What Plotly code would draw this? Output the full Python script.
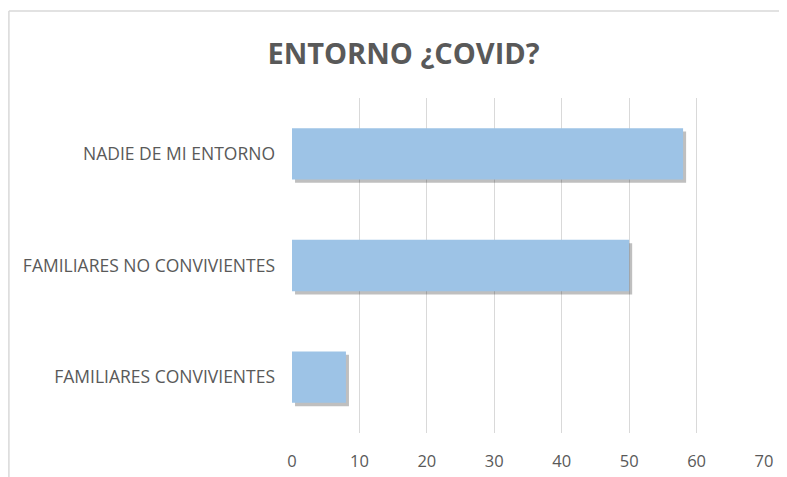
import plotly.graph_objects as go

categories = ["FAMILIARES CONVIVIENTES", "FAMILIARES NO CONVIVIENTES", "NADIE DE MI ENTORNO"]
values = [8, 50, 58]
x_ticks = [0, 10, 20, 30, 40, 50, 60, 70]
title_text = "ENTORNO ¿COVID?"

# the page body adds an 8px offset, so the figure is drawn 8px smaller
W, H = 779, 469
L, T = 284, 90
PW, PH = 472, 335

fig = go.Figure()
# soft shadow under the bars
fig.add_trace(go.Bar(
    y=categories, x=values, orientation="h", base=0.45,
    width=0.46, offset=-0.26,
    marker=dict(color="rgba(0,0,0,0.25)", line=dict(width=0)),
    hoverinfo="skip", showlegend=False,
))
fig.add_trace(go.Bar(
    y=categories, x=values, orientation="h",
    width=0.46,
    marker=dict(color="#9DC3E6", line=dict(width=0)),
    showlegend=False,
))

x_left = (0.9 - L) / PW
x_right = (W + 2 - L) / PW
y_top = (T + PH - (11 - 8)) / PH
y_bottom = -(H - T - PH + 2) / PH

fig.update_layout(
    width=W, height=H,
    margin=dict(l=L, r=W - L - PW, t=T, b=H - T - PH, autoexpand=False),
    paper_bgcolor="white", plot_bgcolor="white",
    barmode="overlay",
    title=dict(text=title_text, x=(403.5 - 8) / W, xanchor="center",
               y=1 - (54 - 8) / H, yanchor="middle",
               font=dict(family="Open Sans", size=29, color="#595959", weight="bold")),
    font=dict(family="Open Sans", color="#595959"),
    xaxis=dict(range=[0, 70], tickvals=x_ticks, showgrid=True, gridcolor="#D9D9D9",
               gridwidth=1, zeroline=False, showline=False,
               tickfont=dict(size=16.5, color="#595959"), ticklabelstandoff=16),
    yaxis=dict(categoryorder="array", categoryarray=categories, showgrid=False,
               zeroline=False, showline=False, range=[-0.5, 2.5],
               tickfont=dict(size=17.5, color="#595959"), ticklabelstandoff=16),
    shapes=[
        dict(type="line", xref="paper", yref="paper", x0=x_left, x1=x_right, y0=y_top, y1=y_top,
             line=dict(color="#D9D9D9", width=1.5), layer="below"),
        dict(type="line", xref="paper", yref="paper", x0=x_left, x1=x_left, y0=y_top, y1=y_bottom,
             line=dict(color="#D9D9D9", width=1.5), layer="below"),
    ],
)

fig.write_html("out.html")
